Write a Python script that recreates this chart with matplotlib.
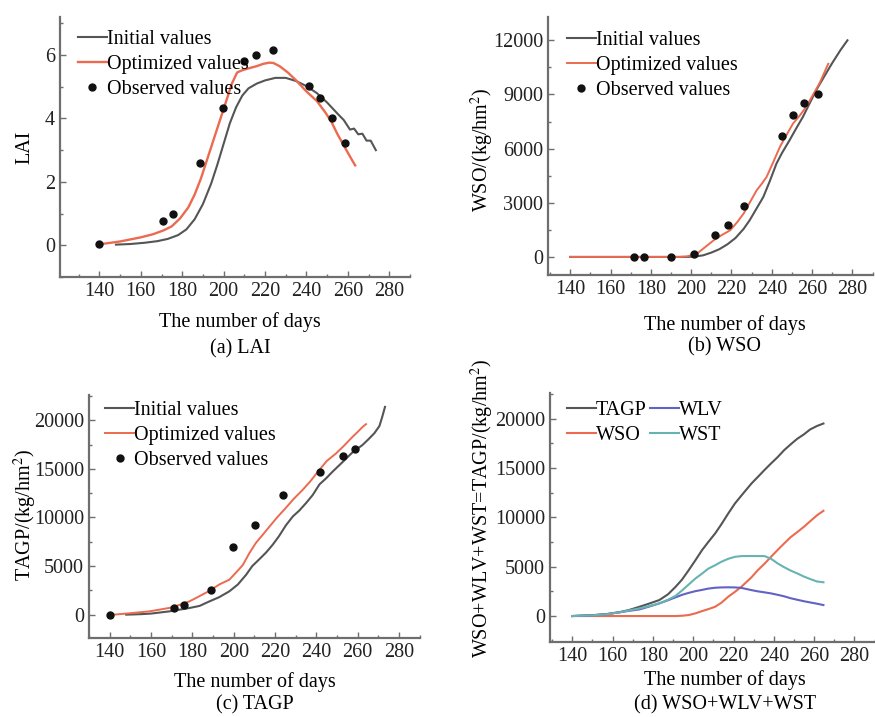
import matplotlib
matplotlib.use("Agg")
import matplotlib.pyplot as plt
from matplotlib.ticker import MultipleLocator, AutoMinorLocator

plt.rcParams['font.family'] = ['Liberation Serif', 'DejaVu Serif']
plt.rcParams['mathtext.fontset'] = 'stix'
FS = 14.5
plt.rcParams['font.size'] = FS

# ---- (a) LAI ----
lai_init_d = [148, 155, 162, 168, 173, 178, 182, 186, 190, 194, 197, 200, 203, 206, 209, 212,
              216, 220, 225, 230, 235, 240, 245, 250, 255, 258, 261, 263, 265, 267, 269, 271, 273.5]
lai_init_v = [0.02, 0.04, 0.08, 0.13, 0.2, 0.32, 0.5, 0.82, 1.3, 1.95, 2.55, 3.2, 3.85, 4.35, 4.72, 4.95,
              5.1, 5.2, 5.28, 5.28, 5.18, 5.02, 4.8, 4.5, 4.15, 3.95, 3.65, 3.68, 3.5, 3.52, 3.3, 3.3, 3.0]
lai_opt_d = [140, 150, 160, 166, 171, 175, 179, 183, 186, 189, 192, 195, 198, 201, 204, 206.5,
             209, 212, 216, 219, 222, 224, 227, 231, 235, 240, 245, 249, 252, 255, 258, 261, 263.5]
lai_opt_v = [0.03, 0.12, 0.25, 0.35, 0.47, 0.6, 0.85, 1.2, 1.6, 2.1, 2.7, 3.3, 3.9, 4.5, 5.1, 5.45,
             5.52, 5.58, 5.65, 5.72, 5.76, 5.75, 5.65, 5.45, 5.2, 4.85, 4.55, 4.2, 3.9, 3.5, 3.15, 2.8, 2.52]
lai_obs_d = [140, 170.9, 175.7, 188.8, 199.9, 209.7, 215.5, 223.7, 241.4, 246.6, 252.4, 258.7]
lai_obs_v = [0.05, 0.77, 0.98, 2.6, 4.33, 5.8, 6.0, 6.16, 5.03, 4.64, 4.0, 3.22]

# ---- (b) WSO ----
wso_init_d = [140, 198, 202, 206, 210, 214, 218, 222, 226, 229, 232, 235.8, 239, 242.3, 245, 248.8,
              252, 255.4, 258.5, 262, 266, 270, 274, 277.5]
wso_init_v = [0, 0, 20, 90, 240, 430, 700, 1050, 1550, 2030, 2600, 3324, 4200, 5170, 5750, 6465,
              7100, 7756, 8450, 9235, 10000, 10750, 11450, 12000]
wso_opt_d = [140, 194, 198, 203, 207, 211.2, 215, 219.4, 223, 226, 229, 232.5, 235, 237.4, 240.5,
             244, 247, 250.5, 254, 257, 260, 263.6, 268]
wso_opt_v = [0, 0, 30, 188, 550, 925, 1200, 1479, 1950, 2402, 3000, 3695, 4050, 4432, 5200,
             6094, 6700, 7386, 7850, 8310, 8900, 9606, 10700]
wso_obs_d = [171.6, 176.8, 189.9, 201.4, 212, 218.1, 226.4, 245.1, 250.3, 256.2, 262.8]
wso_obs_v = [0, 0, 0, 188, 1200, 1794, 2826, 6705, 7890, 8500, 9000]

# ---- (c) TAGP ----
tagp_init_d = [148, 155, 160, 169, 178.6, 183.5, 188.3, 193, 197.9, 202, 206, 209, 212.4, 215.7,
               218.9, 222, 225.3, 228.6, 231.7, 235.1, 238.2, 241.5, 244.6, 247.8, 252.7, 257.5,
               262.3, 265, 268, 270.5, 271.8, 273.2]
tagp_init_v = [0, 50, 110, 342, 684, 900, 1368, 1800, 2400, 3100, 4100, 5000, 5700, 6400,
               7200, 8100, 9200, 10100, 10700, 11500, 12300, 13400, 14000, 14700, 15700, 16700,
               17450, 18000, 18650, 19400, 20300, 21369]
tagp_opt_d = [142, 150, 159.3, 165, 169, 173, 178.6, 183, 188.3, 193, 197.9, 201, 204.4, 207.5,
              210.8, 214, 217.3, 221, 225.3, 229, 233.3, 237, 241.4, 245, 249.5, 253, 257.5,
              260, 262.3, 264]
tagp_opt_v = [0, 150, 342, 550, 700, 950, 1368, 1850, 2450, 3100, 3600, 4300, 5100, 6300,
              7400, 8200, 9060, 10000, 11000, 11900, 12820, 13700, 14871, 15800, 16580, 17300, 18290,
              18800, 19300, 19591]
tagp_obs_d = [140, 170.9, 175.9, 188.8, 199.7, 210.1, 223.8, 241.8, 252.7, 258.5]
tagp_obs_v = [0, 684, 957, 2564, 7009, 9231, 12350, 14701, 16300, 17000]

# ---- (d) partition of dry matter ----
part_d = [140, 150, 157, 163.6, 168, 173.4, 178, 183.2, 187.5, 191.3, 194.5, 197.8, 201.1, 204.4,
          207.5, 210.9, 214, 217.4, 220.7, 223.9, 228.8, 232.1, 235.4, 238.6, 241.9, 245.1, 248.4,
          251.6, 254.9, 258, 261.4, 264.6]
part_tagp = [0, 90, 200, 400, 600, 941, 1250, 1619, 2200, 2965, 3700, 4655, 5650, 6679,
             7500, 8369, 9300, 10393, 11400, 12200, 13400, 14097, 14800, 15453, 16100, 16800, 17400,
             17950, 18400, 18900, 19250, 19500]
part_wso = [0, 0, 0, 0, 0, 0, 0, 0, 0, 0, 30, 100, 270, 500,
            700, 941, 1350, 1957, 2450, 2965, 3900, 4655, 5300, 6000, 6700, 7350, 8000,
            8500, 9037, 9600, 10200, 10659]
part_wlv = [0, 70, 180, 380, 520, 675, 950, 1282, 1600, 1900, 2150, 2350, 2520, 2650,
            2780, 2867, 2900, 2910, 2900, 2850, 2631, 2500, 2400, 2294, 2150, 2000, 1800,
            1650, 1500, 1380, 1250, 1113]
part_wst = [0, 70, 180, 380, 560, 776, 1000, 1282, 1650, 2050, 2600, 3200, 3800, 4300,
            4800, 5150, 5500, 5800, 6000, 6072, 6080, 6075, 6072, 5800, 5330, 4950, 4600,
            4318, 4000, 3750, 3500, 3420]

gray = '#555555'
red = '#ec6a4f'
blue = '#6262c4'
teal = '#66b4b2'
spine_c = '#6e6e6e'

fig = plt.figure(figsize=(8.75, 7.17), dpi=100)


def style(ax, xlo, ylim, ymajor):
    ax.set_xlim(xlo, 290)
    ax.set_ylim(*ylim)
    ax.xaxis.set_major_locator(MultipleLocator(20))
    ax.xaxis.set_minor_locator(MultipleLocator(10))
    ax.yaxis.set_major_locator(MultipleLocator(ymajor))
    ax.yaxis.set_minor_locator(AutoMinorLocator(2))
    for s in ['top', 'right']:
        ax.spines[s].set_visible(False)
    for s in ['left', 'bottom']:
        ax.spines[s].set_color(spine_c)
        ax.spines[s].set_linewidth(1.6)
    ax.tick_params(which='both', direction='in', color=spine_c, labelcolor='#222222', labelsize=FS)
    ax.tick_params(which='major', length=4, width=1)
    ax.tick_params(which='minor', length=2.5, width=1)
    ax.set_xticks(range(140, 281, 20))


def leg(ax, x, y, ncol=1):
    ax.legend(loc='upper left', bbox_to_anchor=(x, y), bbox_transform=fig.transFigure,
              frameon=False, handletextpad=0, handlelength=1.45, borderpad=0, borderaxespad=0,
              labelspacing=0.3, columnspacing=0.15, ncol=ncol, fontsize=FS)


axa = fig.add_axes([0.0686, 0.6137, 0.40, 0.3626])
axa.plot(lai_init_d, lai_init_v, color=gray, lw=1.5, label='Initial values')
axa.plot(lai_opt_d, lai_opt_v, color=red, lw=1.7, label='Optimized values')
axa.plot(lai_obs_d, lai_obs_v, 'o', color='#111111', ms=5, label='Observed values')
style(axa, 121, (-1, 7.2), 2)
leg(axa, 0.089, 0.958)

axb = fig.add_axes([0.6263, 0.6165, 0.371, 0.36])
axb.plot(wso_init_d, wso_init_v, color=gray, lw=1.5, label='Initial values')
axb.plot(wso_opt_d, wso_opt_v, color=red, lw=1.4, label='Optimized values')
axb.plot(wso_obs_d, wso_obs_v, 'o', color='#111111', ms=5, label='Observed values')
style(axb, 129, (-1000, 13300), 3000)
leg(axb, 0.6477, 0.957)

axc = fig.add_axes([0.1017, 0.1102, 0.378, 0.339])
axc.plot(tagp_init_d, tagp_init_v, color=gray, lw=1.5, label='Initial values')
axc.plot(tagp_opt_d, tagp_opt_v, color=red, lw=1.4, label='Optimized values')
axc.plot(tagp_obs_d, tagp_obs_v, 'o', color='#111111', ms=5, label='Observed values')
style(axc, 130, (-2400, 22600), 5000)
leg(axc, 0.12, 0.441)

axd = fig.add_axes([0.6286, 0.105, 0.371, 0.347])
axd.plot(part_d, part_tagp, color=gray, lw=1.5, label='TAGP')
axd.plot(part_d, part_wso, color=red, lw=1.5, label='WSO')
axd.plot(part_d, part_wlv, color=blue, lw=1.5, label='WLV')
axd.plot(part_d, part_wst, color=teal, lw=1.5, label='WST')
style(axd, 129, (-2600, 22600), 5000)
leg(axd, 0.6477, 0.441, ncol=2)

# axis titles and captions
fig.text(25 / 875, 1 - 147 / 717, 'LAI', rotation=90, ha='center', va='center')
fig.text(482 / 875, 1 - 150 / 717, 'WSO/(kg/hm$^{2}$)', rotation=90, ha='center', va='center')
fig.text(25 / 875, 1 - 515 / 717, 'TAGP/(kg/hm$^{2}$)', rotation=90, ha='center', va='center')
fig.text(482 / 875, 1 - 508 / 717, 'WSO+WLV+WST=TAGP/(kg/hm$^{2}$)', rotation=90, ha='center',
         va='center')

fig.text(240 / 875, 1 - 322 / 717, 'The number of days', ha='center', va='center')
fig.text(240 / 875, 1 - 349 / 717, '(a) LAI', ha='center', va='center')
fig.text(725 / 875, 1 - 325 / 717, 'The number of days', ha='center', va='center')
fig.text(725 / 875, 1 - 347 / 717, '(b) WSO', ha='center', va='center')
fig.text(255 / 875, 1 - 682 / 717, 'The number of days', ha='center', va='center')
fig.text(255 / 875, 1 - 705 / 717, '(c) TAGP', ha='center', va='center')
fig.text(725 / 875, 1 - 680 / 717, 'The number of days', ha='center', va='center')
fig.text(725 / 875, 1 - 705 / 717, '(d) WSO+WLV+WST', ha='center', va='center')

fig.savefig('out.png', dpi=100)
